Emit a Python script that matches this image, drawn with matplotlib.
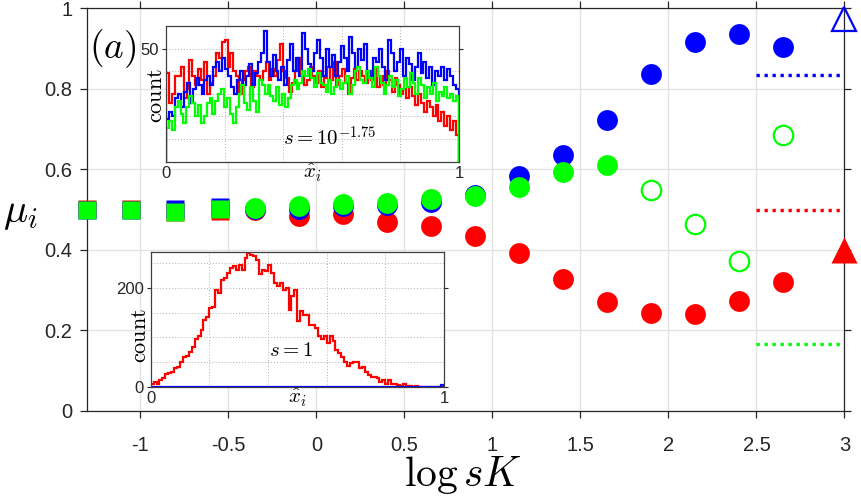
import numpy as np
import matplotlib
matplotlib.use("Agg")
import matplotlib.pyplot as plt

plt.rcParams['font.family'] = ['Liberation Sans', 'DejaVu Sans']
plt.rcParams['mathtext.fontset'] = 'cm'
plt.rcParams['axes.unicode_minus'] = False

# main panel: mean of each species vs log sK
x_sq = [-1.30, -1.05, -0.80, -0.55]
red_sq = [0.502, 0.501, 0.493, 0.497]
blue_sq = [0.498, 0.499, 0.501, 0.506]
green_sq = [0.500, 0.500, 0.494, 0.502]

x_circ = [-0.35, -0.10, 0.15, 0.40, 0.65, 0.90, 1.15, 1.40, 1.65, 1.90, 2.15, 2.40, 2.65]
red_circ = [0.499, 0.484, 0.490, 0.470, 0.460, 0.434, 0.392, 0.328, 0.270, 0.244, 0.241, 0.273, 0.320]
blue_circ = [0.501, 0.501, 0.509, 0.510, 0.519, 0.535, 0.584, 0.635, 0.723, 0.835, 0.916, 0.935, 0.904]
green_circ = [0.503, 0.509, 0.513, 0.515, 0.525, 0.533, 0.557, 0.593, 0.610, 0.548, 0.463, 0.371, 0.685]
n_green_filled = 9

# limits at large sK
limit_x = [2.5, 3.0]
limit_blue = 5 / 6
limit_red = 0.5
limit_green = 1 / 6
tri_x = 3.0
tri_blue = 0.972
tri_red = 0.40

x_ticks = [-1, -0.5, 0, 0.5, 1, 1.5, 2, 2.5, 3]
x_ticklabels = ['-1', '-0.5', '0', '0.5', '1', '1.5', '2', '2.5', '3']
y_ticks = [0, 0.2, 0.4, 0.6, 0.8, 1]
y_ticklabels = ['0', '0.2', '0.4', '0.6', '0.8', '1']

# histogram counts, top inset (s = 10^-1.75)
hist_top_red = [39, 26, 30, 38, 38, 42, 28, 32, 45, 38, 34, 41, 36, 44, 30, 35, 38, 48, 46, 53,
                54, 42, 48, 40, 38, 30, 36, 40, 42, 33, 40, 38, 36, 40,
                44, 36, 41, 38, 45, 52, 40, 37, 31, 35, 40, 46, 38, 34, 36, 42, 38, 35, 40, 33,
                37, 42, 36, 44, 34, 38, 41, 35, 30, 37, 41, 36, 40,
                38, 35, 40, 36, 42, 33, 38, 34, 40, 36, 31, 37, 34, 30, 32, 28, 33, 29, 25, 30,
                26, 22, 27, 24, 20, 25, 18, 22, 16, 20, 14, 18, 12]
hist_top_blue = [19, 22, 20, 28, 30, 24, 31, 35, 26, 32, 37, 34, 30, 36, 38, 34, 42, 44, 40, 46,
                 41, 38, 33, 30, 36, 40, 34, 38, 43, 34, 39, 44, 48,
                 58, 44, 38, 47, 40, 36, 42, 34, 45, 52, 40, 46, 38, 57, 50, 43, 40, 48, 54, 46,
                 38, 50, 42, 47, 38, 44, 51, 46, 40, 55, 48, 42, 50,
                 45, 52, 40, 38, 46, 44, 50, 42, 36, 54, 48, 40, 44, 50, 38, 46, 43, 36, 42, 48,
                 39, 44, 37, 42, 34, 40, 38, 42, 36, 41, 38, 34, 32]
hist_top_green = [15, 18, 14, 24, 27, 21, 17, 24, 29, 26, 20, 25, 17, 20, 26, 28, 21, 27, 30, 32,
                  24, 28, 21, 17, 24, 30, 34, 26, 23, 33, 27, 22, 36,
                  34, 30, 34, 29, 27, 33, 25, 30, 24, 28, 34, 36, 32, 35, 40, 38, 41, 37, 33, 39,
                  35, 34, 31, 36, 30, 33, 36, 32, 35, 38, 30, 34, 40,
                  42, 36, 35, 40, 37, 33, 42, 38, 35, 30, 34, 38, 33, 36, 29, 32, 37, 33, 39, 35,
                  30, 37, 34, 28, 33, 30, 35, 27, 31, 29, 33, 28, 30, 27, 29]

# histogram counts, bottom inset (s = 1)
hist_bot_red = [7, 11, 6, 14, 18, 26, 28, 31, 39, 41, 51, 61, 62, 71, 80, 96, 102, 115, 136, 141,
                159, 162, 196, 189, 216, 219, 230, 240, 245, 237, 247, 237, 261, 271, 267, 265, 257,
                227, 237, 234, 247, 230, 210, 203, 210, 196, 200, 156, 183, 196, 133, 153, 146, 146,
                126, 126, 119, 102, 96, 102, 89, 102, 92, 75, 68, 61, 51, 42, 48, 51, 51, 38, 41,
                31, 24, 21, 20, 18, 11, 14, 7, 14, 6, 7, 4, 3, 6, 2, 3, 1, 2, 1, 0, 1, 0, 0, 0,
                0, 0, 0]
hist_bot_blue = [0] * 99 + [4]

red = (1, 0, 0)
blue = (0, 0, 1)
green = (0, 1, 0)

fig = plt.figure(figsize=(8.61, 5.0), dpi=100)
ax = fig.add_axes([0.1016, 0.178, 0.8792, 0.806])

# squares at small sK
ax.plot(x_sq, red_sq, 's', color=red, ms=13.5, mec='none', zorder=3, clip_on=False)
ax.plot(x_sq, blue_sq, 's', color=blue, ms=13.5, mec='none', zorder=4, clip_on=False)
ax.plot(x_sq, green_sq, 's', color=green, ms=13.5, mec='none', zorder=5, clip_on=False)

# circles, green open where unstable
ax.plot(x_circ, red_circ, 'o', color=red, ms=15, mec='none', zorder=3, clip_on=False)
ax.plot(x_circ, blue_circ, 'o', color=blue, ms=15, mec='none', zorder=4, clip_on=False)
ax.plot(x_circ[:n_green_filled], green_circ[:n_green_filled], 'o', color=green, ms=15,
        mec='none', zorder=5, clip_on=False)
ax.plot(x_circ[n_green_filled:], green_circ[n_green_filled:], 'o', mfc='none', mec=green,
        ms=14, mew=1.6, zorder=5, clip_on=False)

# dotted limit levels
for level, c in [(limit_blue, blue), (limit_red, red), (limit_green, green)]:
    ax.plot(limit_x, [level, level], color=c, lw=2.4, linestyle=(0, (1, 1.4)), zorder=3)

ax.plot([tri_x], [tri_blue], '^', mfc='none', mec=blue, ms=17, mew=1.6, zorder=6, clip_on=False)
ax.plot([tri_x], [tri_red], '^', color=red, mec='none', ms=19, zorder=6, clip_on=False)

ax.set_xlim(-1.3, 3)
ax.set_ylim(0, 1)
ax.set_xticks(x_ticks)
ax.set_xticklabels(x_ticklabels)
ax.set_yticks(y_ticks)
ax.set_yticklabels(y_ticklabels)
ax.tick_params(direction='out', length=5, width=0.9, labelsize=14.5, top=True, right=True,
               colors='#262626')
ax.tick_params(axis='x', pad=13)
ax.tick_params(axis='y', pad=6)
ax.grid(True, color='#e3e3e3', lw=1.0)
ax.set_axisbelow(True)
for sp in ax.spines.values():
    sp.set_linewidth(0.9)
    sp.set_color('#262626')

ax.text(-1.29, 0.90, r'$(a)$', fontsize=27, ha='left', va='center', zorder=7)
fig.text(20 / 861, 1 - 213 / 500, r'$\mu_i$', fontsize=29, ha='center', va='center')
fig.text(463 / 861, 1 - 486 / 500, r'$\log sK$', fontsize=30, ha='center', va='baseline')

# insets with histograms of the species traits
def draw_inset(rect, series, ylim, yticks, grid_y, label, label_pos, count_pos):
    ins = fig.add_axes(rect)
    ins.set_facecolor('white')
    for vals, c in series:
        edges = np.linspace(0, 1, len(vals) + 1)
        ins.stairs(vals, edges, baseline=0, color=c, lw=1.6)
    ins.set_xlim(0, 1)
    ins.set_ylim(*ylim)
    ins.set_xticks([0, 1])
    ins.set_xticklabels(['0', '1'])
    ins.set_yticks(yticks)
    ins.set_yticklabels([str(t) for t in yticks])
    ins.tick_params(direction='out', length=3, width=0.8, labelsize=12, right=True,
                    pad=2, colors='#262626')
    ins.tick_params(axis='x', length=0, pad=3)
    for gx in [0.2, 0.4, 0.6, 0.8]:
        ins.axvline(gx, color='#b0b0b0', lw=0.7, ls=(0, (1, 2)), zorder=0)
    for gy in grid_y:
        ins.axhline(gy, color='#b0b0b0', lw=0.7, ls=(0, (1, 2)), zorder=0)
    for sp in ins.spines.values():
        sp.set_linewidth(0.9)
        sp.set_color('#404040')
    ins.text(count_pos[0], count_pos[1], r'$\mathrm{count}$', rotation=90, fontsize=16,
             transform=ins.transAxes, ha='center', va='center')
    ins.text(0.5, -0.08, r'$\hat{x}_i$', fontsize=15, transform=ins.transAxes,
             ha='center', va='center')
    ins.text(label_pos[0], label_pos[1], label, fontsize=15, transform=ins.transAxes,
             ha='center', va='center')
    return ins

draw_inset([0.1928, 0.6766, 0.3403, 0.2714],
           [(hist_top_red, red), (hist_top_blue, blue), (hist_top_green, green)],
           (0, 60), [50], [10, 20, 30, 40, 50], r'$s=10^{-1.75}$', (0.56, 0.18), (-0.032, 0.49))
draw_inset([0.1750, 0.2260, 0.3407, 0.2706],
           [(hist_bot_red, red), (hist_bot_blue, blue)],
           (0, 273), [0, 200], [50, 100, 150, 200, 250], r'$s=1$', (0.48, 0.27), (-0.036, 0.38))

fig.savefig('out.png', dpi=100)
